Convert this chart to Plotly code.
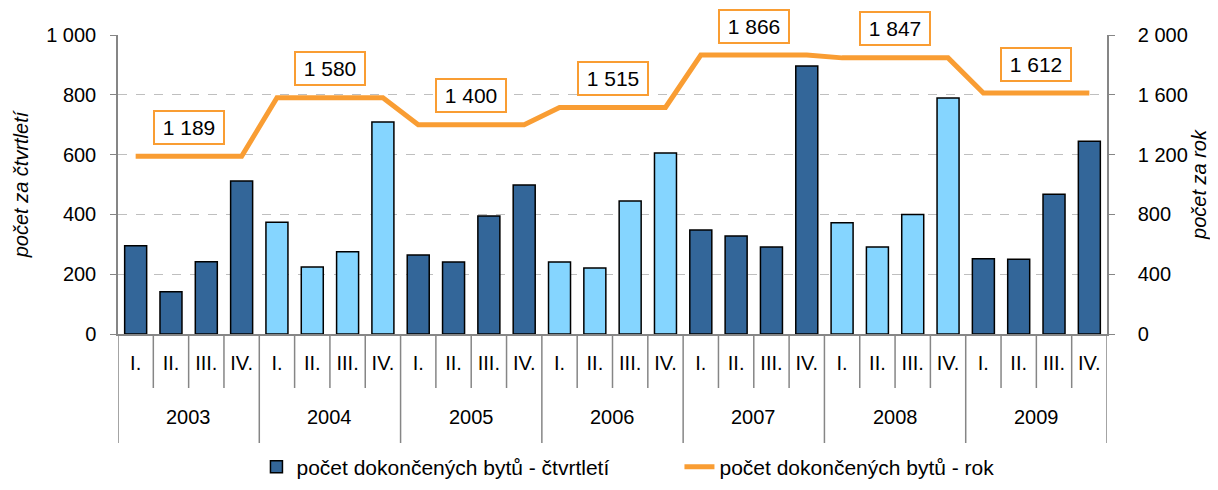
import plotly.graph_objects as go

years = ["2003", "2004", "2005", "2006", "2007", "2008", "2009"]
quarters = ["I.", "II.", "III.", "IV."]
quarterly = [295, 141, 242, 512,
             374, 224, 275, 709,
             264, 241, 395, 498,
             241, 221, 445, 605,
             348, 328, 291, 896,
             372, 291, 400, 789,
             252, 250, 467, 645]
annual = [1189, 1580, 1400, 1515, 1866, 1847, 1612]

DARK = "#336699"
LIGHT = "#85D5FF"
ORANGE = "#F99D33"
AXIS = "#868686"
FONT = "Liberation Sans, Arial, sans-serif"

n = len(quarterly)
xpos = list(range(n))
qlabels = [q for y in years for q in quarters]
bar_colors = [DARK if (i // 4) % 2 == 0 else LIGHT for i in range(n)]
annual_rep = [v for v in annual for q in quarters]

# page has an 8px body margin; figure is sized so the plot area lands where the reference has it
W, H = 1210, 482
ML, MR, MT, MB = 110, 111, 27, 156
PLOT_H = H - MT - MB
Q_SEP = 54 / PLOT_H
Y_SEP = 109 / PLOT_H
YEAR_LABEL_Y = 83 / PLOT_H

fig = go.Figure()
fig.add_trace(go.Bar(
    x=xpos, y=quarterly, name="počet dokončených bytů - čtvrtletí",
    marker=dict(color=bar_colors, line=dict(color="black", width=1.5)),
))
fig.add_trace(go.Scatter(
    x=xpos, y=annual_rep, name="počet dokončených bytů - rok",
    mode="lines", line=dict(color=ORANGE, width=5), yaxis="y2",
))

def fmt(v):
    return f"{v:,}".replace(",", " ")

for i, v in enumerate(annual):
    fig.add_annotation(
        x=i * 4 + 1.5, y=v, xref="x", yref="y2", yshift=29,
        text=fmt(v), showarrow=False, width=60, height=23,
        font=dict(family=FONT, size=21, color="black"),
        bgcolor="white", bordercolor=ORANGE, borderwidth=2, borderpad=4,
    )
    fig.add_annotation(
        x=i * 4 + 1.5, y=-YEAR_LABEL_Y, xref="x", yref="paper",
        text=years[i], showarrow=False, yanchor="middle",
        font=dict(family=FONT, size=20, color="black"),
    )

# separators between quarters / years
for b in range(n + 1):
    is_year = (b % 4 == 0)
    fig.add_shape(
        type="line", xref="x", yref="paper",
        x0=b - 0.5, x1=b - 0.5, y0=0, y1=-(Y_SEP if is_year else Q_SEP),
        line=dict(color=AXIS, width=1.5),
    )

fig.update_layout(
    width=W, height=H,
    margin=dict(l=ML, r=MR, t=MT, b=MB, autoexpand=False),
    paper_bgcolor="white", plot_bgcolor="white",
    font=dict(family=FONT, size=20, color="black"),
    separators=", ",
    bargap=0.377,
    showlegend=True,
    legend=dict(orientation="h", x=0.5677, xanchor="center", y=-133 / PLOT_H, yanchor="middle",
                font=dict(size=21), entrywidth=378, entrywidthmode="pixels"),
    xaxis=dict(
        range=[-0.5, n - 0.5], tickmode="array", tickvals=xpos, ticktext=qlabels,
        showline=True, linecolor=AXIS, linewidth=1.5, ticks="",
        ticklabelstandoff=10, tickfont=dict(size=20), showgrid=False, zeroline=False,
        automargin=False,
    ),
    yaxis=dict(
        range=[0, 1000], dtick=200, showline=True, linecolor=AXIS, linewidth=1.5,
        ticks="outside", ticklen=6, tickcolor=AXIS, separatethousands=True,
        ticklabelstandoff=10,
        showgrid=True, gridcolor="#BFBFBF", griddash="dash", gridwidth=1,
        zeroline=False, tickfont=dict(size=20), automargin=False,
        title=dict(text="počet za čtvrtletí", font=dict(size=20, style="italic"), standoff=12),
    ),
    yaxis2=dict(
        range=[0, 2000], dtick=400, overlaying="y", side="right",
        showline=True, linecolor=AXIS, linewidth=1.5, separatethousands=True,
        ticks="outside", ticklen=6, tickcolor=AXIS, showgrid=False, zeroline=False,
        ticklabelstandoff=19,
        tickfont=dict(size=20), automargin=False,
        title=dict(text="počet za rok", font=dict(size=20, style="italic"), standoff=3),
    ),
)

fig.write_html("out.html")
